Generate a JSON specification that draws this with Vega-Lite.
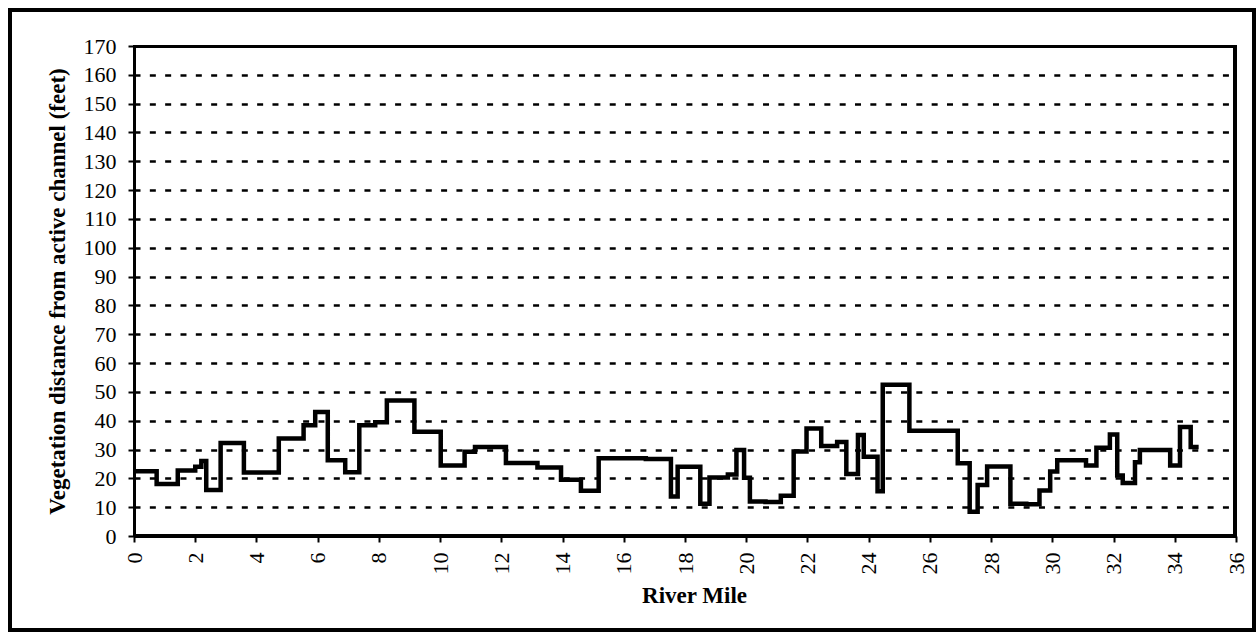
{
  "$schema": "https://vega.github.io/schema/vega-lite/v6.json",
  "width": 1102,
  "height": 490,
  "autosize": {"type": "none"},
  "padding": {"left": 134, "top": 46, "right": 21, "bottom": 103},
  "background": "white",
  "data": {
    "values": [
      {"mile": 0, "dist": 22.5},
      {"mile": 0.74, "dist": 18},
      {"mile": 1.43, "dist": 22.7},
      {"mile": 2.0, "dist": 24},
      {"mile": 2.2, "dist": 26},
      {"mile": 2.36, "dist": 16},
      {"mile": 2.83, "dist": 32.3},
      {"mile": 3.59, "dist": 22},
      {"mile": 4.73, "dist": 33.8},
      {"mile": 5.54, "dist": 38.4},
      {"mile": 5.92, "dist": 43},
      {"mile": 6.33, "dist": 26.3},
      {"mile": 6.9, "dist": 22.1},
      {"mile": 7.36, "dist": 38.4},
      {"mile": 7.88, "dist": 39.5},
      {"mile": 8.26, "dist": 47},
      {"mile": 9.16, "dist": 36.2},
      {"mile": 10.02, "dist": 24.5},
      {"mile": 10.8, "dist": 29.2},
      {"mile": 11.14, "dist": 30.9},
      {"mile": 12.15, "dist": 25.3},
      {"mile": 13.18, "dist": 23.8},
      {"mile": 13.95, "dist": 19.5},
      {"mile": 14.6, "dist": 15.7},
      {"mile": 15.18, "dist": 27},
      {"mile": 16.72, "dist": 26.7},
      {"mile": 17.54, "dist": 13.7},
      {"mile": 17.76, "dist": 24},
      {"mile": 18.5, "dist": 11.2},
      {"mile": 18.8, "dist": 20.3},
      {"mile": 19.4, "dist": 21.3},
      {"mile": 19.68, "dist": 29.8},
      {"mile": 19.93, "dist": 20.2},
      {"mile": 20.12, "dist": 12},
      {"mile": 20.63, "dist": 11.8},
      {"mile": 21.13, "dist": 14},
      {"mile": 21.55, "dist": 29.3},
      {"mile": 21.97, "dist": 37.3},
      {"mile": 22.45, "dist": 31.2},
      {"mile": 22.97, "dist": 32.6},
      {"mile": 23.27, "dist": 21.5},
      {"mile": 23.65, "dist": 35},
      {"mile": 23.84, "dist": 27.5},
      {"mile": 24.29, "dist": 15.5},
      {"mile": 24.46, "dist": 52.5},
      {"mile": 25.33, "dist": 36.5},
      {"mile": 26.91, "dist": 25.2},
      {"mile": 27.3, "dist": 8.4},
      {"mile": 27.56, "dist": 17.7},
      {"mile": 27.87, "dist": 24.1},
      {"mile": 28.63, "dist": 11.2},
      {"mile": 29.15, "dist": 11.0},
      {"mile": 29.58, "dist": 15.8},
      {"mile": 29.93, "dist": 22.4},
      {"mile": 30.16, "dist": 26.3},
      {"mile": 31.1, "dist": 24.5},
      {"mile": 31.44, "dist": 30.6},
      {"mile": 31.88, "dist": 35.2},
      {"mile": 32.12, "dist": 21},
      {"mile": 32.3, "dist": 18.4},
      {"mile": 32.7, "dist": 25.6},
      {"mile": 32.86, "dist": 29.8},
      {"mile": 33.85, "dist": 24.5},
      {"mile": 34.17, "dist": 37.8},
      {"mile": 34.52, "dist": 30.9},
      {"mile": 34.78, "dist": 30.9}
    ]
  },
  "config": {
    "view": {"stroke": "black", "strokeWidth": 2},
    "axis": {
      "domainColor": "black",
      "domainWidth": 3,
      "tickColor": "black",
      "tickWidth": 2,
      "tickSize": 6,
      "labelFont": "Liberation Serif",
      "labelFontSize": 22,
      "labelColor": "black",
      "titleFont": "Liberation Serif",
      "titleFontSize": 23,
      "titleFontWeight": "bold",
      "titleColor": "black"
    },
    "axisX": {"labelFont": "Liberation Serif", "labelFontSize": 22},
    "axisY": {"labelFont": "Liberation Serif", "labelFontSize": 22}
  },
  "layer": [
    {
      "mark": {"type": "line", "interpolate": "step-after", "color": "black", "strokeWidth": 4.5},
      "encoding": {
        "x": {
          "field": "mile",
          "type": "quantitative",
          "title": "River Mile",
          "scale": {"domain": [0, 36], "nice": false, "zero": false},
          "axis": {
            "values": [0, 2, 4, 6, 8, 10, 12, 14, 16, 18, 20, 22, 24, 26, 28, 30, 32, 34, 36],
            "labelAngle": -90,
            "labelPadding": 10,
            "grid": false,
            "titlePadding": 10,
            "titleX": 560,
            "labelOverlap": false,
            "labelFlush": false
          }
        },
        "y": {
          "field": "dist",
          "type": "quantitative",
          "title": "Vegetation distance from active channel (feet)",
          "scale": {"domain": [0, 170], "nice": false},
          "axis": {
            "values": [0, 10, 20, 30, 40, 50, 60, 70, 80, 90, 100, 110, 120, 130, 140, 150, 160, 170],
            "grid": true,
            "gridColor": "black",
            "gridWidth": 2.5,
            "gridDash": [6, 9.33],
            "labelPadding": 12,
            "titlePadding": 14,
            "labelOverlap": false,
            "labelFlush": false
          }
        }
      }
    },
    {
      "mark": {"type": "rect", "fill": "white", "fillOpacity": 0, "stroke": "black", "strokeWidth": 3, "clip": false},
      "encoding": {
        "x": {
          "datum": -4.05,
          "type": "quantitative",
          "title": "River Mile",
          "axis": {
            "values": [0, 2, 4, 6, 8, 10, 12, 14, 16, 18, 20, 22, 24, 26, 28, 30, 32, 34, 36],
            "labelAngle": -90,
            "labelPadding": 10,
            "grid": false,
            "titlePadding": 10,
            "titleX": 560,
            "labelOverlap": false,
            "labelFlush": false
          }
        },
        "x2": {"datum": 36.6},
        "y": {
          "datum": -32.6,
          "type": "quantitative",
          "title": "Vegetation distance from active channel (feet)",
          "axis": {
            "values": [0, 10, 20, 30, 40, 50, 60, 70, 80, 90, 100, 110, 120, 130, 140, 150, 160, 170],
            "grid": true,
            "gridColor": "black",
            "gridWidth": 2.5,
            "gridDash": [6, 9.33],
            "labelPadding": 12,
            "titlePadding": 14,
            "labelOverlap": false,
            "labelFlush": false
          }
        },
        "y2": {"datum": 182.5}
      }
    },
    {
      "mark": {"type": "rect", "fill": "white", "fillOpacity": 0, "stroke": "black", "strokeWidth": 2.5, "clip": false},
      "encoding": {
        "x": {
          "datum": 0.02,
          "type": "quantitative",
          "title": "River Mile",
          "axis": {
            "values": [0, 2, 4, 6, 8, 10, 12, 14, 16, 18, 20, 22, 24, 26, 28, 30, 32, 34, 36],
            "labelAngle": -90,
            "labelPadding": 10,
            "grid": false,
            "titlePadding": 10,
            "titleX": 560,
            "labelOverlap": false,
            "labelFlush": false
          }
        },
        "x2": {"datum": 35.97},
        "y": {
          "datum": 0.05,
          "type": "quantitative",
          "title": "Vegetation distance from active channel (feet)",
          "axis": {
            "values": [0, 10, 20, 30, 40, 50, 60, 70, 80, 90, 100, 110, 120, 130, 140, 150, 160, 170],
            "grid": true,
            "gridColor": "black",
            "gridWidth": 2.5,
            "gridDash": [6, 9.33],
            "labelPadding": 12,
            "titlePadding": 14,
            "labelOverlap": false,
            "labelFlush": false
          }
        },
        "y2": {"datum": 169.8}
      }
    }
  ]
}
